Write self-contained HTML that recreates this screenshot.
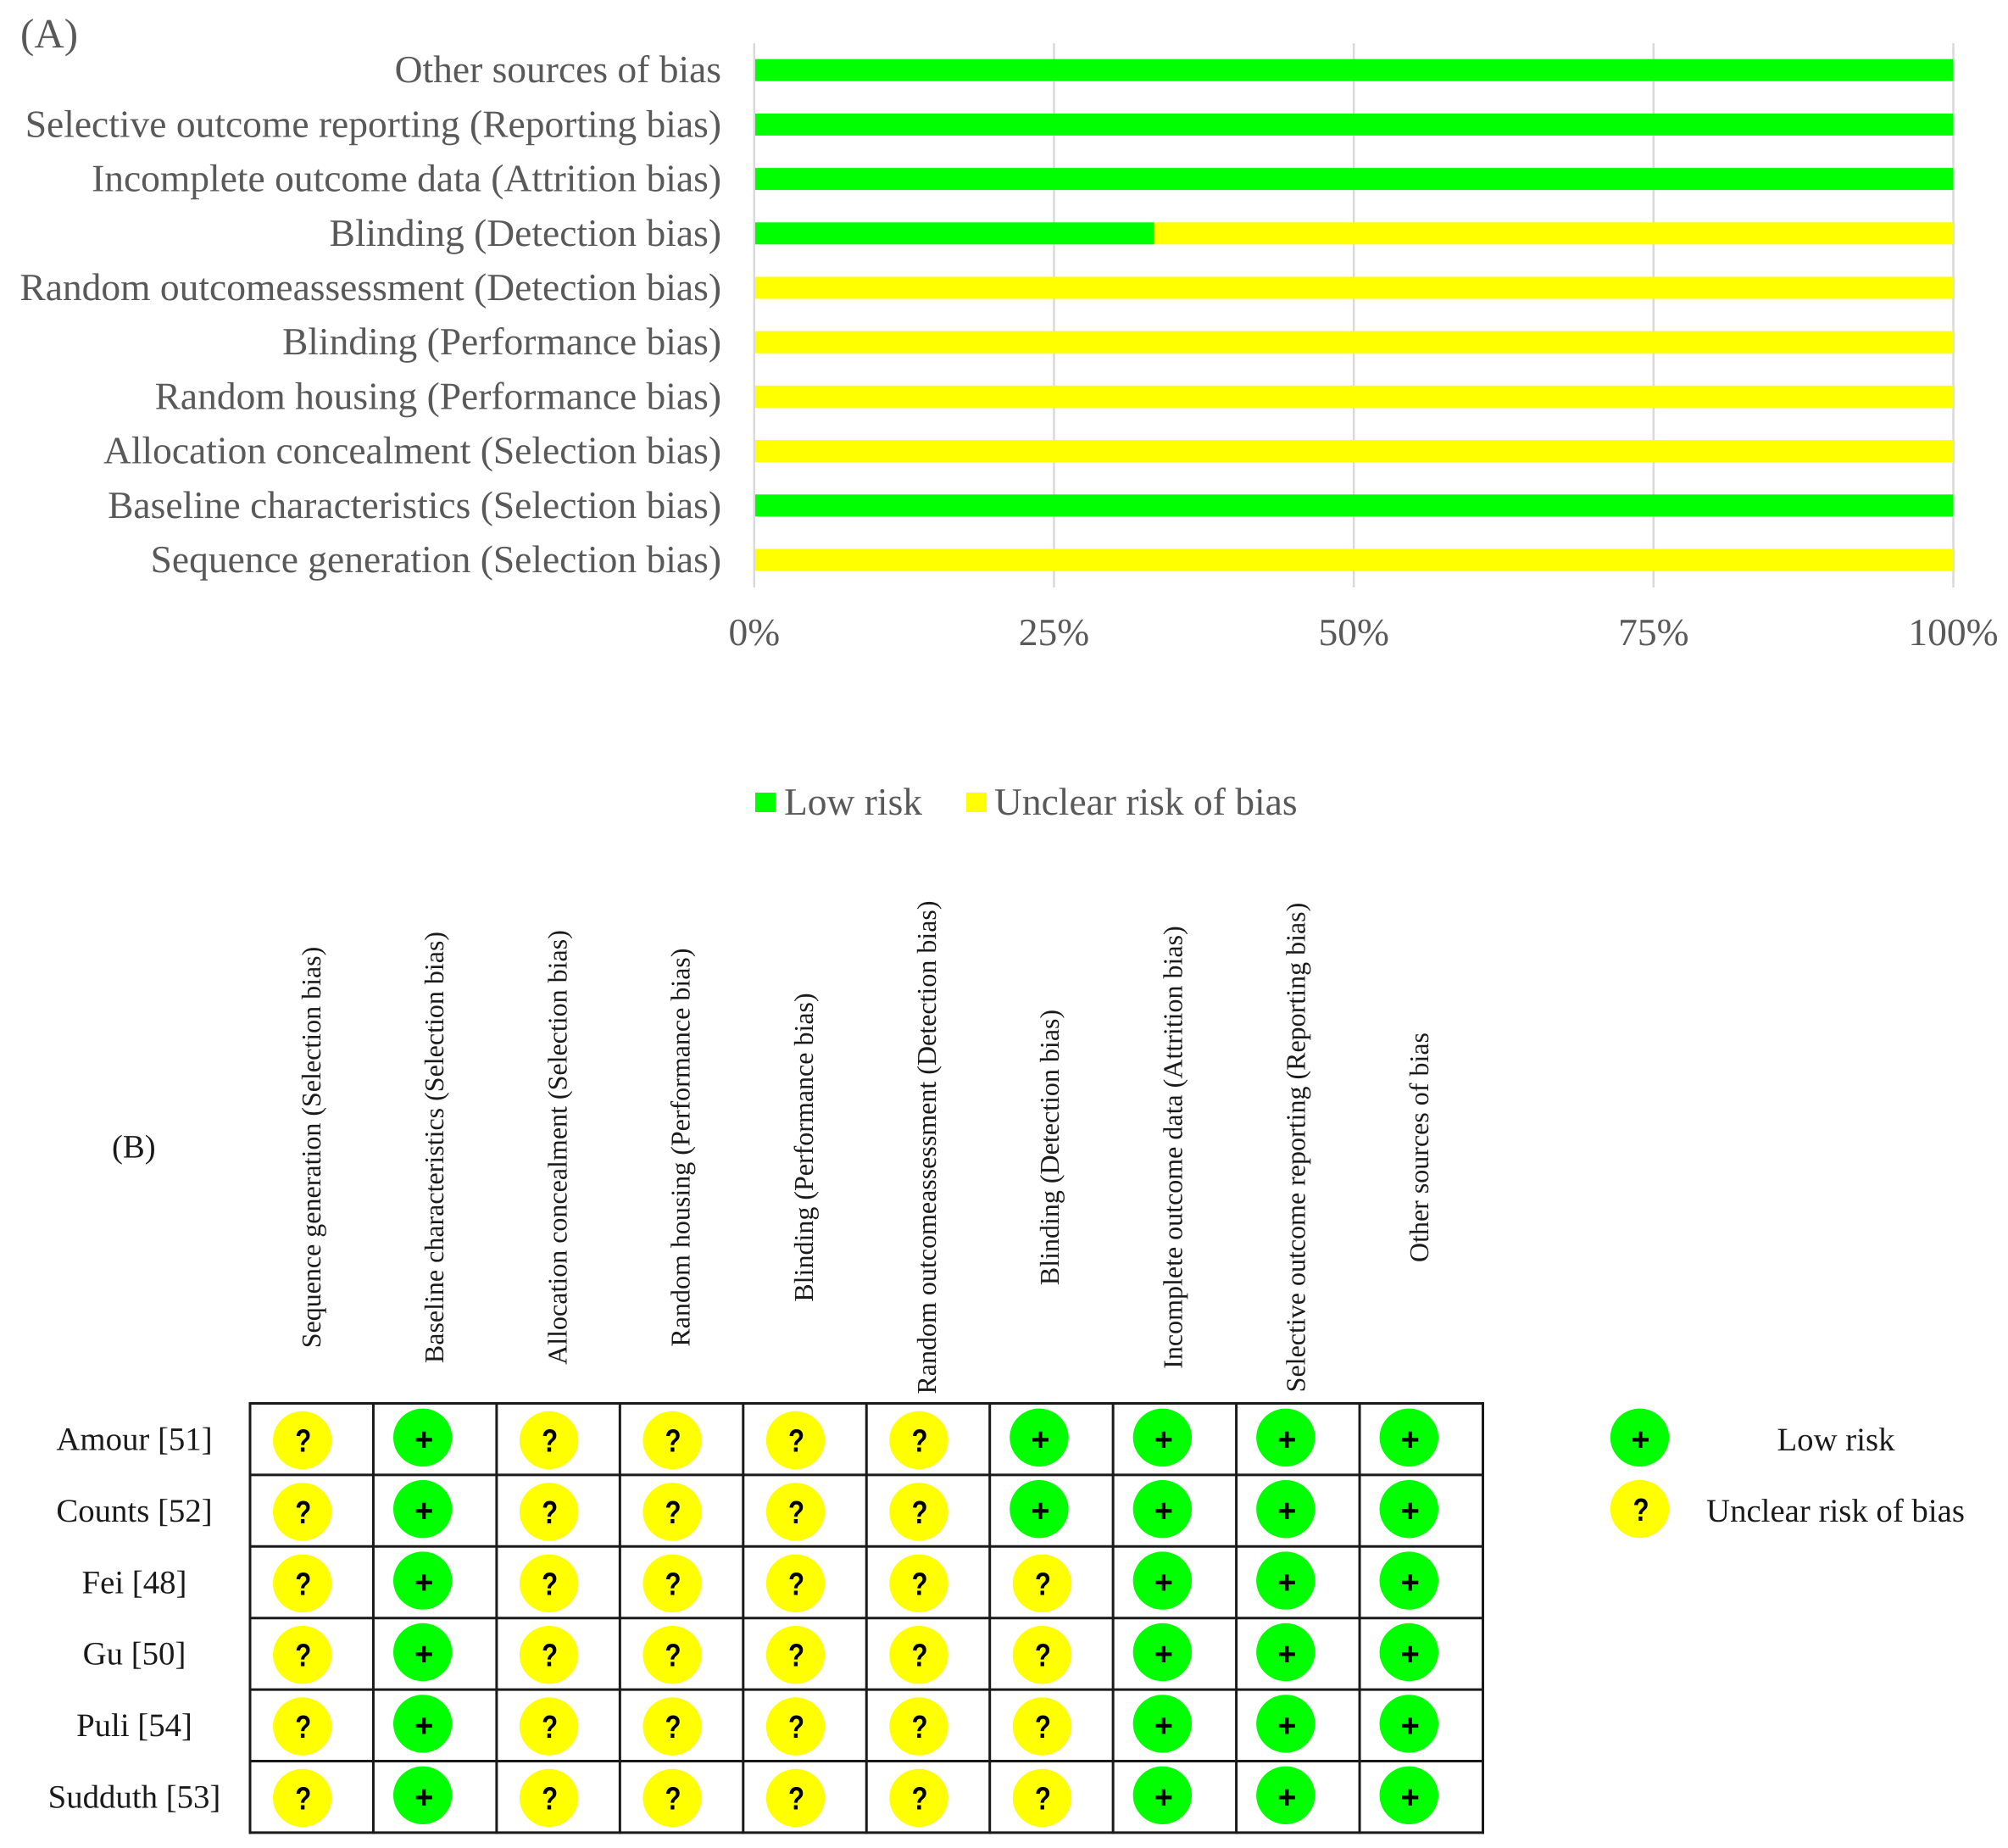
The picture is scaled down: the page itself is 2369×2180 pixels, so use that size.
<!DOCTYPE html>
<html lang="en">
<head>
<meta charset="utf-8">
<title>Risk of bias summary</title>
<style>
html,body{margin:0;padding:0;background:#fff;}
body{width:2369px;height:2180px;overflow:hidden;}
svg{display:block;}
text{font-family:"Liberation Serif",serif;text-rendering:geometricPrecision;}
.grey{fill:#595959;font-size:45.5px;}
.blk{fill:#1a1a1a;font-size:38.8px;}
.rot{fill:#1a1a1a;font-size:32px;}
.sym{font-family:"Liberation Sans",sans-serif;font-weight:700;fill:#000;font-size:38px;text-anchor:middle;}
</style>
</head>
<body>
<svg id="fig" xmlns="http://www.w3.org/2000/svg" width="2369" height="2180" viewBox="0 0 2369 2180">
  <rect x="0" y="0" width="2369" height="2180" fill="#fff"/>
  <text class="grey" x="24" y="56" style="font-size:49px">(A)</text>
  <g id="panelA"></g>
  <rect x="891" y="935" width="24" height="23" fill="#00ff00"/>
  <text class="grey" x="925" y="961">Low risk</text>
  <rect x="1140" y="935" width="24" height="23" fill="#ffff00"/>
  <text class="grey" x="1173" y="961">Unclear risk of bias</text>
  <text class="blk" x="132" y="1365.5">(B)</text>
  <g id="panelB"></g>
  <ellipse cx="1934.5" cy="1695.8" rx="34.7" ry="34.2" fill="#00ff00"/>
  <text class="sym" x="1935.5" y="1711">+</text>
  <text class="blk" x="2166" y="1711" text-anchor="middle">Low risk</text>
  <ellipse cx="1934.5" cy="1780" rx="34.7" ry="34.2" fill="#ffff00"/>
  <text class="sym" transform="translate(1936 1794) scale(0.82 1)" x="0" y="0">?</text>
  <text class="blk" x="2165.5" y="1795" text-anchor="middle">Unclear risk of bias</text>
</svg>
<script>
// Panel A data (top row first)
var barCategories = [
  "Other sources of bias",
  "Selective outcome reporting (Reporting bias)",
  "Incomplete outcome data (Attrition bias)",
  "Blinding (Detection bias)",
  "Random outcomeassessment (Detection bias)",
  "Blinding (Performance bias)",
  "Random housing (Performance bias)",
  "Allocation concealment (Selection bias)",
  "Baseline characteristics (Selection bias)",
  "Sequence generation (Selection bias)"
];
var lowRiskValues = [100, 100, 100, 33.33, 0, 0, 0, 0, 100, 0];
var unclearRiskValues = [0, 0, 0, 66.67, 100, 100, 100, 100, 0, 100];
var tickValues = [0, 25, 50, 75, 100];
var tickLabels = ["0%", "25%", "50%", "75%", "100%"];

// Panel B data
var matrixDomains = [
  "Sequence generation (Selection bias)",
  "Baseline characteristics (Selection bias)",
  "Allocation concealment (Selection bias)",
  "Random housing (Performance bias)",
  "Blinding (Performance bias)",
  "Random outcomeassessment (Detection bias)",
  "Blinding (Detection bias)",
  "Incomplete outcome data (Attrition bias)",
  "Selective outcome reporting (Reporting bias)",
  "Other sources of bias"
];
var matrixStudies = ["Amour [51]", "Counts [52]", "Fei [48]", "Gu [50]", "Puli [54]", "Sudduth [53]"];
var judgementsAmour   = ["?", "+", "?", "?", "?", "?", "+", "+", "+", "+"];
var judgementsCounts  = ["?", "+", "?", "?", "?", "?", "+", "+", "+", "+"];
var judgementsFei     = ["?", "+", "?", "?", "?", "?", "?", "+", "+", "+"];
var judgementsGu      = ["?", "+", "?", "?", "?", "?", "?", "+", "+", "+"];
var judgementsPuli    = ["?", "+", "?", "?", "?", "?", "?", "+", "+", "+"];
var judgementsSudduth = ["?", "+", "?", "?", "?", "?", "?", "+", "+", "+"];
var judgementRows = [judgementsAmour, judgementsCounts, judgementsFei, judgementsGu, judgementsPuli, judgementsSudduth];

var NS = "http://www.w3.org/2000/svg";
function make(parent, tag, attrs, txt) {
  var n = document.createElementNS(NS, tag);
  for (var k in attrs) n.setAttribute(k, attrs[k]);
  if (txt !== undefined) n.textContent = txt;
  parent.appendChild(n);
  return n;
}
function slug(s) {
  return s.toLowerCase().replace(/[^a-z0-9]+/g, "-").replace(/^-|-$/g, "");
}

// ---------- Panel A ----------
var panelA = document.getElementById("panelA");
var GREEN = "#00ff00", YELLOW = "#ffff00";
function xScale(v) { return 889.8 + v * (2304.5 - 889.8) / 100; }
function yScale(i) { return 82.7 + i * (660.5 - 82.7) / (barCategories.length - 1); }
var BAR_H = 26, AXIS_TOP = 51, AXIS_BOTTOM = 693;

tickValues.forEach(function (v, i) {
  var line = make(panelA, "line", {x1: xScale(v), x2: xScale(v), y1: AXIS_TOP, y2: AXIS_BOTTOM, stroke: "#d9d9d9", "stroke-width": 2.5});
  
  
  var t = make(panelA, "text", {"class": "grey", x: xScale(v), y: 761, "text-anchor": "middle"}, tickLabels[i]);
  
  
});

barCategories.forEach(function (name, i) {
  var cy = yScale(i);
  var label = make(panelA, "text", {"class": "grey", x: 851, y: cy + 14.5, "text-anchor": "end"}, name);
  
  
  var x0 = xScale(0) + 1.2;
  var x1 = xScale(lowRiskValues[i]);
  var x2 = xScale(lowRiskValues[i] + unclearRiskValues[i]);
  if (lowRiskValues[i] > 0) {
    var g = make(panelA, "rect", {x: x0, y: cy - BAR_H / 2, width: x1 - x0, height: BAR_H, fill: GREEN});
    
    
  }
  if (unclearRiskValues[i] > 0) {
    var start = lowRiskValues[i] > 0 ? x1 : x0;
    var y = make(panelA, "rect", {x: start, y: cy - BAR_H / 2, width: x2 - start, height: BAR_H, fill: YELLOW});
    
    
  }
});

// ---------- Panel B ----------
var panelB = document.getElementById("panelB");
var TL = 295, TT = 1655.5, CW = 145.45, RH = 84.4;
function colX(k) { return TL + CW * k; }
function rowY(r) { return TT + RH * r; }

matrixDomains.forEach(function (name, k) {
  var bx = 378 + 145.2 * k;
  var t = make(panelB, "text", {"class": "rot", x: bx, y: 1353.5, "text-anchor": "middle", transform: "rotate(-90 " + bx + " 1353.5)"}, name);
  
  
});

matrixStudies.forEach(function (name, r) {
  var t = make(panelB, "text", {"class": "blk", x: 158.5, y: rowY(r) + 55, "text-anchor": "middle"}, name);
  
  
});

judgementRows.forEach(function (row, r) {
  row.forEach(function (j, k) {
    var low = j === "+";
    var cx = colX(k) + CW / 2 + (low ? -14.5 : -11);
    var cy = rowY(r) + (low ? 40.3 : 43.5);
    var c = make(panelB, "ellipse", {cx: cx, cy: cy, rx: 34.7, ry: 34.2, fill: low ? GREEN : YELLOW});
    
    
    var sx = cx + (low ? 1.5 : 1);
    var sy = cy + (low ? 15 : 13.5);
    var s = make(panelB, "text", {"class": "sym", x: 0, y: 0, transform: "translate(" + sx + " " + sy + ") scale(" + (low ? 1 : 0.82) + " 1)"}, j);
    
    
  });
});

for (var r = 0; r <= matrixStudies.length; r++) {
  var h = make(panelB, "line", {x1: TL - 1.5, x2: colX(matrixDomains.length) + 1.5, y1: rowY(r), y2: rowY(r), stroke: "#1a1a1a", "stroke-width": 3});
  
  
}
for (var k = 0; k <= matrixDomains.length; k++) {
  var v = make(panelB, "line", {x1: colX(k), x2: colX(k), y1: TT - 1.5, y2: rowY(matrixStudies.length) + 1.5, stroke: "#1a1a1a", "stroke-width": 3});
  
  
}
</script>
</body>
</html>
